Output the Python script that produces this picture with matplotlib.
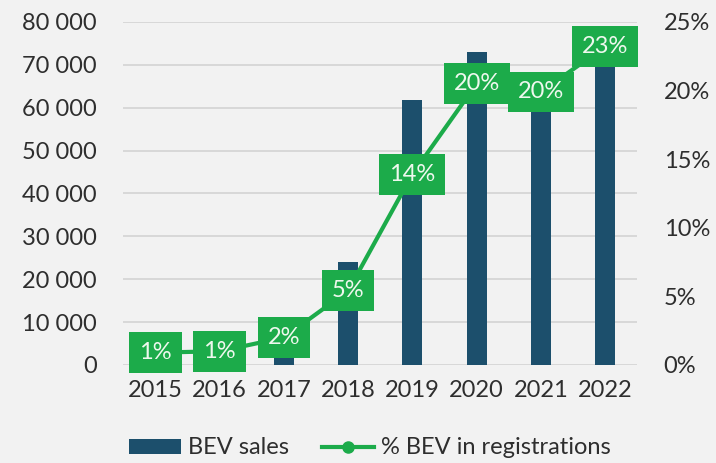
import numpy as np
import matplotlib
matplotlib.use("Agg")
import matplotlib.pyplot as plt
from matplotlib.patches import Patch
from matplotlib.lines import Line2D

years = ["2015", "2016", "2017", "2018", "2019", "2020", "2021", "2022"]
bev_sales = [2600, 3700, 9000, 24000, 61800, 73000, 62000, 73800]
bev_share = [0.9, 1.0, 2.0, 5.4, 13.9, 20.5, 19.9, 23.2]
share_labels = ["1%", "1%", "2%", "5%", "14%", "20%", "20%", "23%"]

BAR = "#1c4f6c"
GREEN = "#1cab4a"
TXT = "#2e2e2e"
BG = "#f2f2f2"

plt.rcParams.update({"font.family": "Lato", "font.size": 17,
                     "text.color": TXT, "xtick.color": TXT, "ytick.color": TXT})

fig = plt.figure(figsize=(7.16, 4.63), dpi=100, facecolor=BG)
ax = fig.add_axes([0.172, 0.2117, 0.718, 0.7408], facecolor=BG)
x = np.arange(len(years))

ax.bar(x, bev_sales, width=0.31, color=BAR, zorder=2)
ax.set_xlim(-0.5, 7.5)
ax.set_ylim(0, 80000)
ax.set_yticks(np.arange(0, 80001, 10000))
ax.set_yticklabels([f"{v:,}".replace(",", " ") for v in range(0, 80001, 10000)])
ax.set_xticks(x)
ax.set_xticklabels(years)
ax.grid(axis="y", color="#d3d3d3", lw=1.2, zorder=0)
ax.tick_params(axis="y", length=0, pad=19, labelsize=17)
ax.tick_params(axis="x", length=0, pad=11, labelsize=17)
for s in ax.spines.values():
    s.set_visible(False)

ax2 = ax.twinx()
ax2.set_ylim(0, 25)
ax2.set_yticks(np.arange(0, 26, 5))
ax2.set_yticklabels([f"{v}%" for v in range(0, 26, 5)])
ax2.tick_params(axis="y", length=0, pad=19, labelsize=17)
for s in ax2.spines.values():
    s.set_visible(False)

ax2.plot(x, bev_share, color=GREEN, lw=3, marker="o", ms=8, zorder=3)
for xi, yi, lab in zip(x, bev_share, share_labels):
    ax2.text(xi, yi, lab, ha="center", va="center", color="#eef8ee", fontsize=17,
             zorder=4, bbox=dict(boxstyle="square,pad=0.42", fc=GREEN, ec="none"))

handles = [Patch(facecolor=BAR, edgecolor="none"),
           Line2D([0], [0], color=GREEN, lw=3, marker="o", ms=8)]
fig.legend(handles, ["BEV sales", "% BEV in registrations"], loc="center",
           bbox_to_anchor=(370 / 716, 1 - 448 / 463), ncol=2, frameon=False,
           fontsize=17, handlelength=2.2, handleheight=0.6, handletextpad=0.3,
           columnspacing=1.4)

fig.savefig("out.png", dpi=100, facecolor=BG)
